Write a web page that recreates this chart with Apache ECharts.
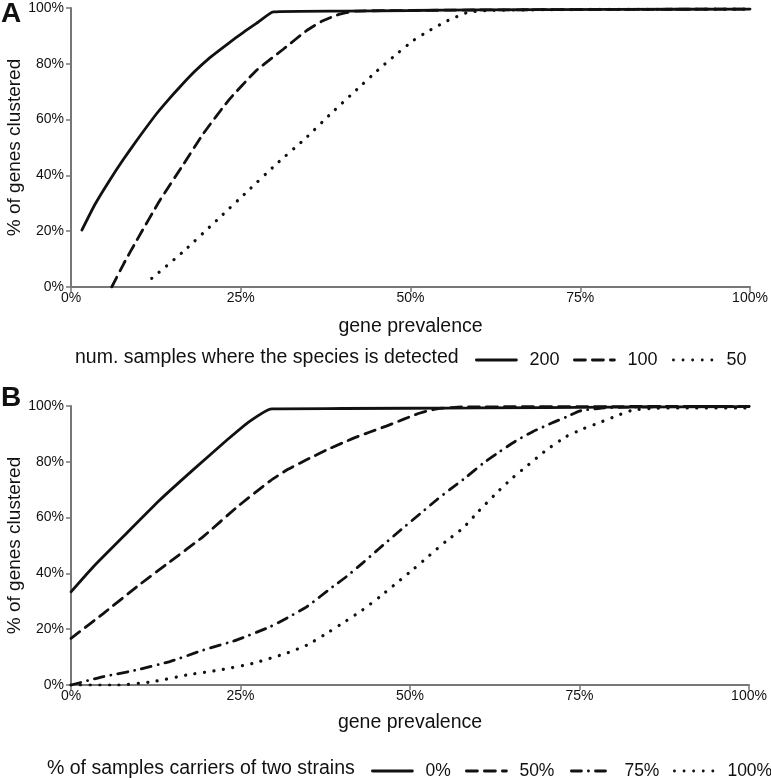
<!DOCTYPE html>
<html>
<head>
<meta charset="utf-8">
<script src="https://cdn.jsdelivr.net/npm/echarts@6/dist/echarts.min.js"></script>
<style>
  html, body { margin: 0; padding: 0; background: #fff; }
  #chart { width: 771px; height: 778px; }
</style>
</head>
<body>
<div id="chart"></div>
<script>
// 坐标轴刻度
var xTicks = [0, 25, 50, 75, 100];
var yTicks = [0, 20, 40, 60, 80, 100];

// A: num. samples where the species is detected
var a200X = [1.6, 3.5, 5.7, 7.7, 9.7, 12.6, 14.3, 16, 18.2, 20.5, 23, 25.4, 27.5, 29.8, 40, 50, 60, 80, 100];
var a200Y = [20.4, 29.5, 38.3, 45.7, 52.6, 62.1, 67, 71.6, 77.2, 82.3, 87, 91.3, 94.8, 98.6, 98.9, 99.1, 99.3, 99.5, 99.6];
var a100X = [6, 7.8, 9.7, 13.1, 16.3, 19.5, 23.2, 27.3, 31.3, 34.7, 37, 39.6, 42, 50, 60, 80, 100];
var a100Y = [0, 8.5, 16.8, 31.1, 43, 55, 66.9, 77.6, 85.3, 91.9, 95.3, 97.8, 98.9, 99.1, 99.3, 99.5, 99.6];
var a50X = [11.9, 16.5, 21.5, 25.9, 30.3, 34.5, 38, 42.1, 45, 48, 50.5, 52.9, 55.5, 58.3, 61, 70, 80, 100];
var a50Y = [3.1, 12.6, 24, 34.1, 44.2, 53.2, 61.5, 70.8, 77.3, 83.6, 88.5, 92.1, 95.5, 98.3, 99.1, 99.4, 99.5, 99.6];

// B: % of samples carriers of two strains
var b0X = [0, 3.3, 8.2, 13.1, 18, 23, 26.4, 29.6, 40, 60, 80, 100];
var b0Y = [33.4, 42.4, 54.4, 66.3, 77.1, 87.8, 94.6, 99.0, 99.1, 99.3, 99.6, 99.8];
var b50X = [0, 4.8, 9.7, 14.6, 19.5, 24.4, 29.4, 32, 34.8, 38, 41.6, 44, 46.5, 49, 51.5, 54, 57, 60, 80, 100];
var b50Y = [16.7, 25.7, 35.2, 44.2, 53.2, 63.6, 73.2, 77.3, 80.8, 84.6, 88.4, 90.6, 92.8, 95.2, 97.5, 99.0, 99.6, 99.7, 99.8, 99.9];
var b75X = [0, 4.8, 9.7, 14.6, 19.5, 24.4, 29.4, 32, 34.8, 38.6, 40.6, 43, 45.5, 48.5, 51.4, 54, 56, 58.3, 60.7, 63.2, 65.5, 68.1, 71, 73, 75, 78, 82, 90, 100];
var b75Y = [0, 3.0, 5.4, 8.4, 12.5, 16.1, 20.9, 24.2, 28.1, 35.2, 38.8, 43.7, 49, 55.3, 61.2, 66.5, 70.3, 74.5, 79.3, 83.6, 87.3, 90.8, 94, 96, 98.2, 99.2, 99.6, 99.8, 99.9];
var b100X = [0, 7, 12.1, 17.1, 22, 26.9, 31.8, 34.8, 38.1, 40.6, 43, 45.5, 48, 50.5, 52.9, 55.3, 57.8, 60.2, 62.7, 65, 67.1, 70, 73, 75.5, 77.9, 80.5, 82.8, 86, 90, 100];
var b100Y = [0, 0, 1.2, 3.6, 5.4, 7.8, 11.4, 14.3, 19.1, 23, 26.9, 31.5, 36.5, 41.5, 46.5, 51.5, 56.2, 62.5, 68.7, 74, 78.2, 84, 89, 91.8, 94, 96.5, 98.5, 99.2, 99.3, 99.3];

function pairs(xs, ys) {
    return xs.map(function (x, i) { return [x, ys[i]]; });
}

var font = 'Liberation Sans, Arial, sans-serif';
var solid = 'solid';
var dashed = [11, 7];
var dashDot = [10, 7, 0.1, 7];
var dotted = [0.1, 9.5];

function lineSeries(name, idx, data, type) {
    return {
        type: 'line',
        name: name,
        xAxisIndex: idx,
        yAxisIndex: idx,
        data: data,
        symbol: 'none',
        smooth: 0.15,
        color: '#111',
        lineStyle: { color: '#111', width: type === dotted ? 3.2 : 2.8, type: type, cap: 'round' }
    };
}

function xAxis(idx) {
    return {
        type: 'value', gridIndex: idx, min: 0, max: 100, interval: 25,
        name: 'gene prevalence', nameLocation: 'middle', nameGap: idx === 0 ? 30 : 28,
        nameMoveOverlap: false,
        nameTextStyle: { fontFamily: font, fontSize: 19.5, color: '#111' },
        axisLine: { lineStyle: { color: '#777', width: 2 } },
        axisTick: { length: 5, lineStyle: { color: '#777', width: 1.5 } },
        axisLabel: { formatter: '{value}%', fontFamily: font, fontSize: 14, color: '#111', margin: 4 },
        splitLine: { show: false }
    };
}

function yAxis(idx) {
    return {
        type: 'value', gridIndex: idx, min: 0, max: 100, interval: 20,
        name: '% of genes clustered', nameLocation: 'middle', nameGap: 47,
        nameMoveOverlap: false,
        nameTextStyle: { fontFamily: font, fontSize: 19, color: '#111' },
        axisLine: { show: true, lineStyle: { color: '#777', width: 2 } },
        axisTick: { show: true, length: 5, lineStyle: { color: '#777', width: 1.5 } },
        axisLabel: { formatter: '{value}%', fontFamily: font, fontSize: 14, color: '#111', margin: 7 },
        splitLine: { show: false }
    };
}

// one legend per entry, so every sample sits where it does in the figure
function legendItem(name, left, top, size) {
    return {
        data: [name], left: left, top: top, orient: 'horizontal',
        itemWidth: 40, itemHeight: 12, padding: 0,
        textStyle: { fontFamily: font, fontSize: size, color: '#111', padding: [0, 0, 0, 8] },
        itemStyle: { opacity: 0 },
        lineStyle: { width: 2.8 }
    };
}

var chart = echarts.init(document.getElementById('chart'));
chart.setOption({
    animation: false,
    grid: [
        { left: 71, top: 8, width: 679, height: 279, outerBoundsMode: 'none' },
        { left: 71, top: 406, width: 678, height: 279, outerBoundsMode: 'none' }
    ],
    xAxis: [xAxis(0), xAxis(1)],
    yAxis: [yAxis(0), yAxis(1)],
    legend: [
        legendItem('200', 475, 351, 18),
        legendItem('100', 573, 351, 18),
        legendItem('50', 672, 351, 18),
        legendItem('0%', 371, 762, 17.5),
        legendItem('50%', 465, 762, 17.5),
        legendItem('75%', 570, 762, 17.5),
        legendItem('100%', 673, 762, 17.5)
    ],
    graphic: [
        { type: 'text', left: 1, top: 0, style: { text: 'A', font: 'bold 28px ' + font, fill: '#111' } },
        { type: 'text', left: 1, top: 384, style: { text: 'B', font: 'bold 28px ' + font, fill: '#111' } },
        { type: 'text', left: 75, top: 348, style: { text: 'num. samples where the species is detected', font: '19.5px ' + font, fill: '#111' } },
        { type: 'text', left: 47, top: 759, style: { text: '% of samples carriers of two strains', font: '19.5px ' + font, fill: '#111' } }
    ],
    series: [
        lineSeries('200', 0, pairs(a200X, a200Y), solid),
        lineSeries('100', 0, pairs(a100X, a100Y), dashed),
        lineSeries('50', 0, pairs(a50X, a50Y), dotted),
        lineSeries('0%', 1, pairs(b0X, b0Y), solid),
        lineSeries('50%', 1, pairs(b50X, b50Y), dashed),
        lineSeries('75%', 1, pairs(b75X, b75Y), dashDot),
        lineSeries('100%', 1, pairs(b100X, b100Y), dotted)
    ]
});
</script>
</body>
</html>
